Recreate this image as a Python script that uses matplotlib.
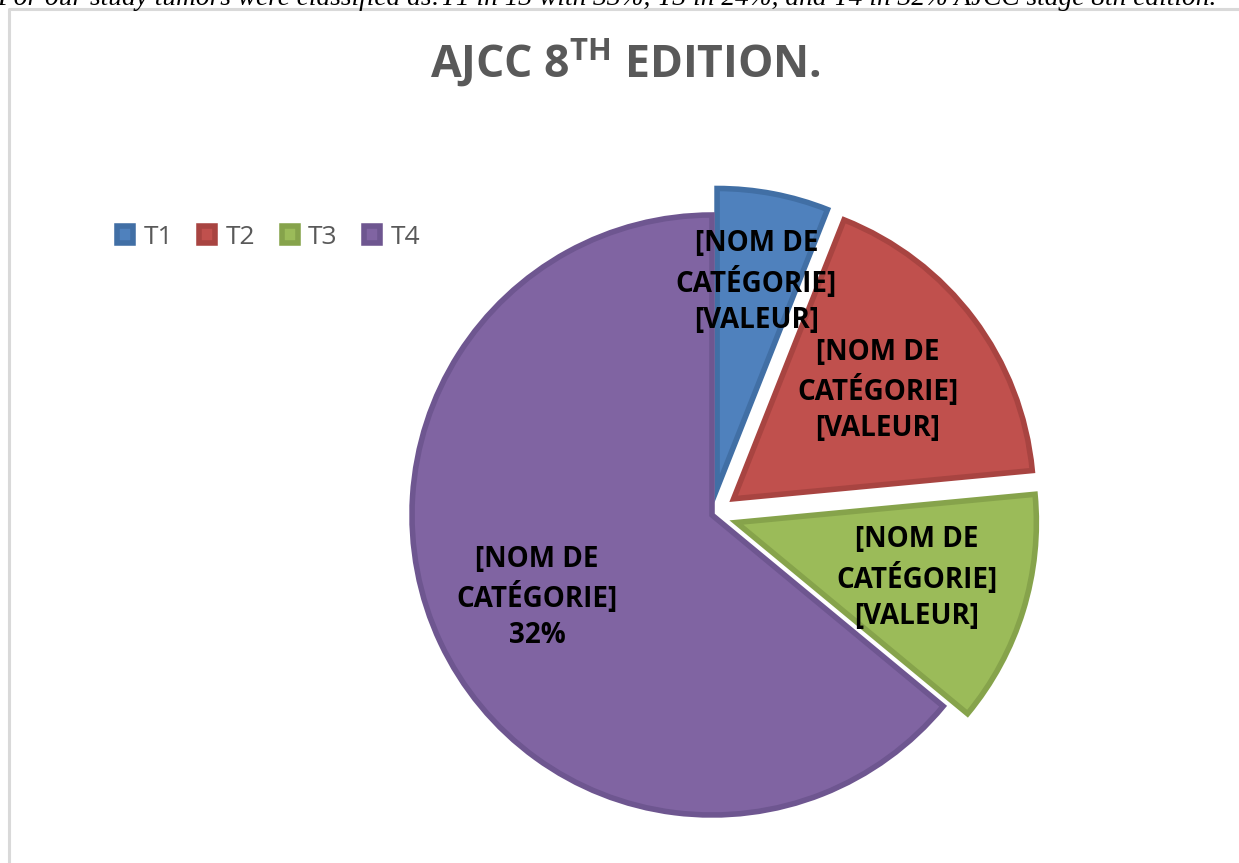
import matplotlib.pyplot as plt
import numpy as np

# data
categories = ['T1', 'T2', 'T3', 'T4']
shares = [6, 17.5, 12.5, 64]
slice_labels = ['[NOM DE\nCATÉGORIE]\n[VALEUR]',
                '[NOM DE\nCATÉGORIE]\n[VALEUR]',
                '[NOM DE\nCATÉGORIE]\n[VALEUR]',
                '[NOM DE\nCATÉGORIE]\n32%']
title_txt = r'AJCC 8$^{\mathrm{TH}}$ EDITION.'
intro_txt = ('For our study tumors were classified as:T1 in 13 with 33%, '
             'T3 in 24%, and T4 in 32% AJCC stage 8th edition.')

colors = ['#4F81BD', '#C0504D', '#9BBB59', '#8064A2']
edges = ['#416FA5', '#A84441', '#86A34B', '#6E5690']
label_dist = [0.70, 0.60, 0.63, 0.645]

plt.rcParams['font.family'] = ['Open Sans', 'DejaVu Sans']
plt.rcParams['mathtext.fontset'] = 'custom'
plt.rcParams['mathtext.rm'] = 'Open Sans:bold'
plt.rcParams['mathtext.bf'] = 'Open Sans:bold'

W, H = 1239, 863
fig = plt.figure(figsize=(W / 100, H / 100), dpi=100)
ax = fig.add_axes([0, 0, 1, 1])

R = 300
# explode is in data units (pixels here)
explode = [0.09 * R, 0.09 * R, 0.085 * R, 0]
wedges, _ = ax.pie(shares, colors=colors, startangle=90, counterclock=False,
                   explode=explode, center=(712, H - 515), radius=R,
                   wedgeprops=dict(linewidth=4))
for w, ec in zip(wedges, edges):
    w.set_edgecolor(ec)
    w.set_joinstyle('miter')

# labels inside each slice, along its mid angle
for w, txt, d in zip(wedges, slice_labels, label_dist):
    mid = np.deg2rad((w.theta1 + w.theta2) / 2)
    cx, cy = w.center
    ax.text(cx + d * R * np.cos(mid), cy + d * R * np.sin(mid), txt,
            ha='center', va='center', fontsize=20, fontweight='bold',
            color='black', linespacing=1.33, multialignment='center')

ax.set_xlim(0, W)
ax.set_ylim(0, H)
ax.axis('off')

ax.text(625, H - 77, title_txt, ha='center', va='baseline', fontsize=32,
        fontweight='bold', color='#595959')

ax.text(-3, H - 5, intro_txt, ha='left', va='baseline', fontsize=19.7,
        family='Liberation Serif', style='italic', color='black')

ax.legend(wedges, categories, loc='center left',
          bbox_to_anchor=(117, H - 237), bbox_transform=ax.transData,
          ncol=4, frameon=False, fontsize=19, handlelength=0.6,
          handleheight=0.6, handletextpad=0.4, columnspacing=1.0,
          borderpad=0, borderaxespad=0, labelcolor='#595959')

# chart area border (only top and left are in view)
ax.plot([9, 9, W + 5], [-5, H - 9, H - 9], color='#D9D9D9', lw=2.2,
        clip_on=False)

fig.savefig('out.png', dpi=100)
